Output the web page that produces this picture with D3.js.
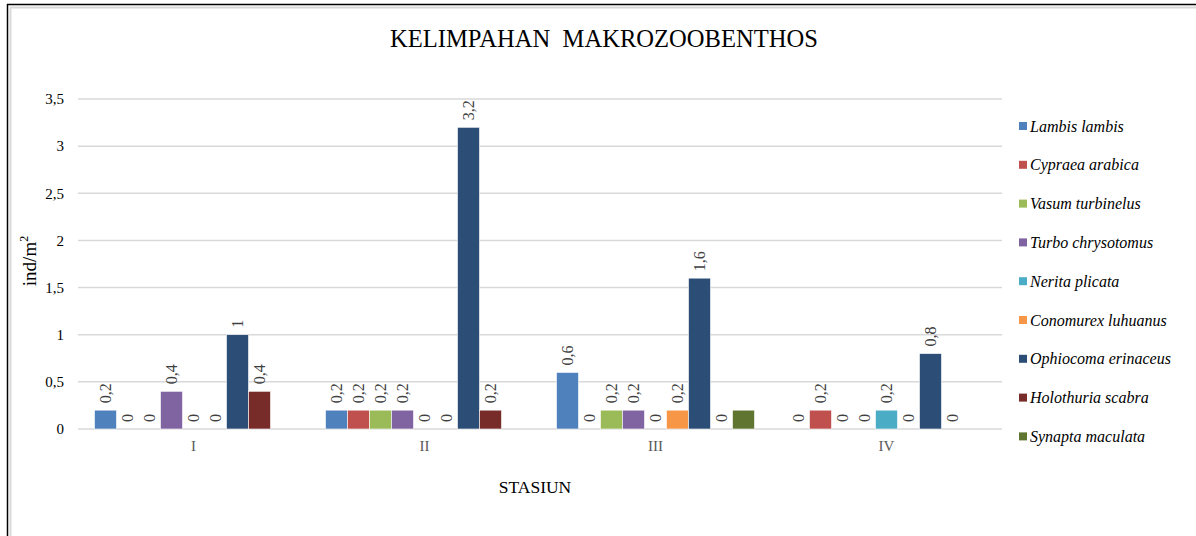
<!DOCTYPE html>
<html>
<head>
<meta charset="utf-8">
<script src="https://cdn.jsdelivr.net/npm/d3@7"></script>
<style>
body { margin: 0; background: #fff; }
svg { font-family: "Liberation Serif", "Times New Roman", serif; }
</style>
</head>
<body>
<svg id="chart" width="1196" height="536"></svg>
<script>
// data
var stasiun = ["I", "II", "III", "IV"];
var spesies = ["Lambis lambis", "Cypraea arabica", "Vasum turbinelus", "Turbo chrysotomus",
  "Nerita plicata", "Conomurex luhuanus", "Ophiocoma erinaceus", "Holothuria scabra", "Synapta maculata"];
var warna = ["#4F81BD", "#C0504D", "#9BBB59", "#8064A2", "#4BACC6", "#F79646", "#2C4D75", "#772C2A", "#5F7530"];
var lambis = [0.2, 0.2, 0.6, 0];
var cypraea = [0, 0.2, 0, 0.2];
var vasum = [0, 0.2, 0.2, 0];
var turbo = [0.4, 0.2, 0.2, 0];
var nerita = [0, 0, 0, 0.2];
var conomurex = [0, 0, 0.2, 0];
var ophiocoma = [1, 3.2, 1.6, 0.8];
var holothuria = [0.4, 0.2, 0, 0];
var synapta = [null, null, 0.2, null];
var seri = [lambis, cypraea, vasum, turbo, nerita, conomurex, ophiocoma, holothuria, synapta];
var tanpaLabel = ["Synapta maculata"];
var yTicks = [0, 0.5, 1, 1.5, 2, 2.5, 3, 3.5];

var svg = d3.select("#chart");

// bingkai
svg.append("line").attr("x1", 7).attr("x2", 1196).attr("y1", 4.5).attr("y2", 4.5).attr("stroke", "#000").attr("stroke-width", 1.5);
svg.append("line").attr("x1", 7.5).attr("x2", 7.5).attr("y1", 4).attr("y2", 536).attr("stroke", "#000").attr("stroke-width", 1.5);
svg.append("line").attr("x1", 10).attr("x2", 1196).attr("y1", 7.5).attr("y2", 7.5).attr("stroke", "#d9d9d9").attr("stroke-width", 2);
svg.append("line").attr("x1", 10.5).attr("x2", 10.5).attr("y1", 7).attr("y2", 536).attr("stroke", "#d9d9d9").attr("stroke-width", 2);

var x0 = d3.scaleBand().domain(stasiun).range([78, 1002]).paddingInner(0).paddingOuter(0);
var x1 = d3.scaleBand().domain(d3.range(spesies.length)).range([16.5, x0.bandwidth() - 16.5]);
var y = d3.scaleLinear().domain([0, 3.5]).range([429, 99]);

// grid
svg.append("g").selectAll("line").data(yTicks).join("line")
  .attr("x1", 78).attr("x2", 1002)
  .attr("y1", function(d){ return y(d); }).attr("y2", function(d){ return y(d); })
  .attr("stroke", "#d9d9d9").attr("stroke-width", 1.5);

// label sumbu y
var yAxis = d3.axisLeft(y).tickValues(yTicks).tickSize(0).tickPadding(0)
  .tickFormat(function(d){ return String(d).replace(".", ","); });
svg.append("g").attr("transform", "translate(64,0)").call(yAxis)
  .call(function(g){ g.select(".domain").remove(); })
  .selectAll("text").attr("font-family", "Liberation Serif").attr("font-size", 15).attr("fill", "#000");

// label sumbu x
var xAxis = d3.axisBottom(x0).tickSize(0).tickPadding(0);
svg.append("g").attr("transform", "translate(0,440)").call(xAxis)
  .call(function(g){ g.select(".domain").remove(); })
  .selectAll("text").attr("font-family", "Liberation Serif").attr("font-size", 15).attr("fill", "#595959");

// batang
var grup = svg.append("g").selectAll("g").data(stasiun).join("g")
  .attr("transform", function(d){ return "translate(" + x0(d) + ",0)"; });

grup.each(function(st, gi){
  var g = d3.select(this);
  var isi = seri.map(function(s, si){ return {si: si, v: s[gi]}; });
  g.selectAll("rect").data(isi.filter(function(d){ return d.v !== null && d.v > 0; })).join("rect")
    .attr("x", function(d){ return x1(d.si); })
    .attr("width", x1.bandwidth())
    .attr("y", function(d){ return y(d.v); })
    .attr("height", function(d){ return y(0) - y(d.v); })
    .attr("fill", function(d){ return warna[d.si]; })
    .attr("stroke", "#fff").attr("stroke-width", 0.6);
  g.selectAll("text").data(isi.filter(function(d){ return d.v !== null && tanpaLabel.indexOf(spesies[d.si]) < 0; })).join("text")
    .attr("transform", function(d){
      return "translate(" + (x1(d.si) + x1.bandwidth() / 2) + "," + (y(d.v) - 7) + ") rotate(-90)";
    })
    .attr("dy", "0.35em")
    .attr("font-size", 16)
    .attr("fill", "#404040")
    .text(function(d){ return String(d.v).replace(".", ","); });
});

// judul
svg.append("text").attr("x", 604).attr("y", 47).attr("text-anchor", "middle")
  .attr("font-size", 26).attr("fill", "#000").attr("xml:space", "preserve")
  .attr("textLength", 428).attr("lengthAdjust", "spacingAndGlyphs")
  .text("KELIMPAHAN  MAKROZOOBENTHOS");

// judul sumbu
var yl = svg.append("text").attr("transform", "translate(36,261) rotate(-90)").attr("text-anchor", "middle")
  .attr("font-size", 19).attr("fill", "#000");
yl.append("tspan").text("ind/m");
yl.append("tspan").attr("font-size", 12).attr("dy", -8).text("2");
svg.append("text").attr("x", 535).attr("y", 493).attr("text-anchor", "middle")
  .attr("font-size", 17.5).attr("fill", "#000").text("STASIUN");

// legenda
var leg = svg.append("g").selectAll("g").data(spesies).join("g")
  .attr("transform", function(d, i){ return "translate(1019," + (126 + i * 38.8) + ")"; });
leg.append("rect").attr("x", 0).attr("y", -4).attr("width", 8).attr("height", 8)
  .attr("fill", function(d, i){ return warna[i]; });
leg.append("text").attr("x", 11).attr("dy", "0.35em")
  .attr("font-size", 16).attr("font-style", "italic").attr("fill", "#000")
  .text(function(d){ return d; });
</script>
</body>
</html>
